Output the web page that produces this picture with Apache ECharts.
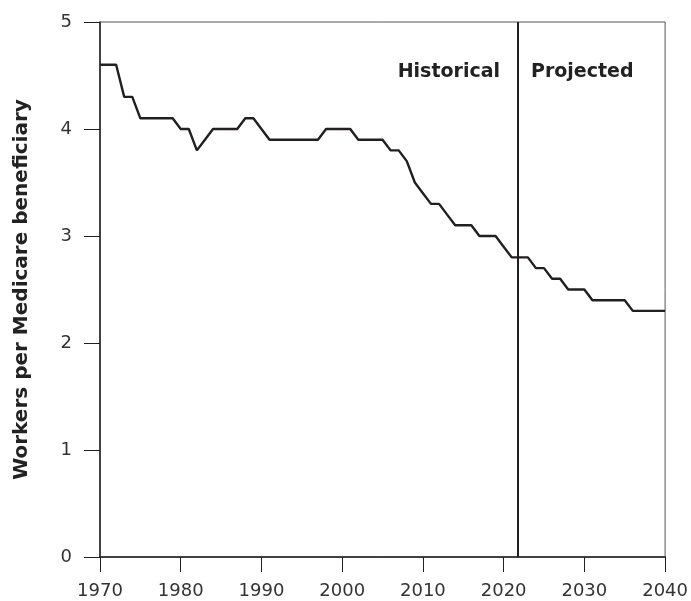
<!DOCTYPE html>
<html>
<head>
<meta charset="utf-8">
<script src="https://cdn.jsdelivr.net/npm/echarts@6/dist/echarts.min.js"></script>
<style>
    html, body { margin: 0; padding: 0; background: #fff; }
    #chart { width: 691px; height: 601px; }
</style>
</head>
<body>
<div id="chart"></div>
<script>
const years = [
    1970, 1971, 1972, 1973, 1974, 1975, 1976, 1977, 1978, 1979,
    1980, 1981, 1982, 1983, 1984, 1985, 1986, 1987, 1988, 1989,
    1990, 1991, 1992, 1993, 1994, 1995, 1996, 1997, 1998, 1999,
    2000, 2001, 2002, 2003, 2004, 2005, 2006, 2007, 2008, 2009,
    2010, 2011, 2012, 2013, 2014, 2015, 2016, 2017, 2018, 2019,
    2020, 2021, 2022, 2023, 2024, 2025, 2026, 2027, 2028, 2029,
    2030, 2031, 2032, 2033, 2034, 2035, 2036, 2037, 2038, 2039,
    2040
];
const workersPerBeneficiary = [
    4.6, 4.6, 4.6, 4.3, 4.3, 4.1, 4.1, 4.1, 4.1, 4.1,
    4.0, 4.0, 3.8, 3.9, 4.0, 4.0, 4.0, 4.0, 4.1, 4.1,
    4.0, 3.9, 3.9, 3.9, 3.9, 3.9, 3.9, 3.9, 4.0, 4.0,
    4.0, 4.0, 3.9, 3.9, 3.9, 3.9, 3.8, 3.8, 3.7, 3.5,
    3.4, 3.3, 3.3, 3.2, 3.1, 3.1, 3.1, 3.0, 3.0, 3.0,
    2.9, 2.8, 2.8, 2.8, 2.7, 2.7, 2.6, 2.6, 2.5, 2.5,
    2.5, 2.4, 2.4, 2.4, 2.4, 2.4, 2.3, 2.3, 2.3, 2.3,
    2.3
];
const dividerYear = 2021.7;
const periodLabels = ["Historical", "Projected"];

const ink = "#231f20";
const tickFont = {fontFamily: "DejaVu Sans", fontSize: 18, color: "#333"};
const boldLabel = {fontFamily: "DejaVu Sans", fontWeight: "bold", fontSize: 19, fill: "#222"};

const chart = echarts.init(document.getElementById("chart"));

chart.setOption({
    animation: false,
    grid: {
        left: 100, right: 24, top: 22, bottom: 44,
        show: true, borderColor: "#555", borderWidth: 1
    },
    xAxis: {
        type: "value",
        min: 1970, max: 2040, interval: 10,
        axisLine: {show: true, lineStyle: {color: ink, width: 1.5}},
        axisTick: {show: true, length: 15, lineStyle: {color: ink, width: 1}},
        axisLabel: {...tickFont, margin: 25, formatter: v => String(v)},
        splitLine: {show: false}
    },
    yAxis: {
        type: "value",
        min: 0, max: 5, interval: 1,
        name: "Workers per Medicare beneficiary",
        nameLocation: "middle",
        nameGap: 68,
        nameTextStyle: {fontFamily: "DejaVu Sans", fontWeight: "bold", fontSize: 20, color: "#222"},
        axisLine: {show: true, lineStyle: {color: ink, width: 1.5}},
        axisTick: {show: true, length: 16, lineStyle: {color: ink, width: 1}},
        axisLabel: {...tickFont, margin: 28},
        splitLine: {show: false}
    },
    series: [{
        type: "line",
        data: years.map((year, i) => [year, workersPerBeneficiary[i]]),
        showSymbol: false,
        lineStyle: {color: ink, width: 2.4},
        markLine: {
            silent: true,
            symbol: "none",
            label: {show: false},
            lineStyle: {color: ink, type: "solid", width: 2},
            data: [{xAxis: dividerYear}]
        }
    }],
    graphic: [
        {type: "text", right: 691 - 500, top: 63, style: {text: periodLabels[0], ...boldLabel}},
        {type: "text", left: 531, top: 63, style: {text: periodLabels[1], ...boldLabel}}
    ]
});
</script>
</body>
</html>
